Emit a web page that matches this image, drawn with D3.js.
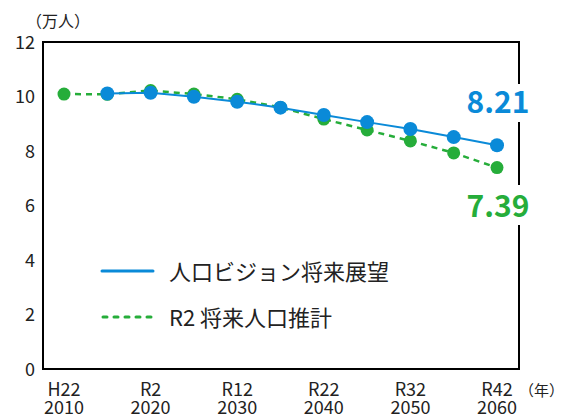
<!DOCTYPE html>
<html>
<head>
<meta charset="utf-8">
<script src="https://cdn.jsdelivr.net/npm/d3@7"></script>
<style>
  body { margin: 0; background: #fff; }
  text { font-family: "Noto Sans CJK JP", "Noto Sans", sans-serif; }
</style>
</head>
<body>
<svg width="566" height="420"></svg>
<script>
// data
const years = [2010, 2015, 2020, 2025, 2030, 2035, 2040, 2045, 2050, 2055, 2060];
const visionValues = [null, 10.11, 10.14, 9.99, 9.81, 9.59, 9.32, 9.06, 8.81, 8.51, 8.21];
const estimateValues = [10.09, 10.08, 10.22, 10.09, 9.9, 9.6, 9.17, 8.77, 8.37, 7.93, 7.39];
const yTicks = [0, 2, 4, 6, 8, 10, 12];
const xTickYears = [2010, 2020, 2030, 2040, 2050, 2060];
const xTickEra = ["H22", "R2", "R12", "R22", "R32", "R42"];
const seriesNames = ["人口ビジョン将来展望", "R2 将来人口推計"];

const blue = "#0a8ad8";
const green = "#26ad3a";
const ink = "#222";

const svg = d3.select("svg");

const x = d3.scaleLinear().domain([2010, 2060]).range([64, 497]);
const y = d3.scaleLinear().domain([0, 12]).range([369, 42]);

// frame
svg.append("rect")
    .attr("x", 43).attr("y", y(12))
    .attr("width", 519 - 43).attr("height", y(0) - y(12))
    .attr("fill", "none")
    .attr("stroke", "#000")
    .attr("stroke-width", 2);

// y axis labels
svg.append("g")
    .selectAll("text")
    .data(yTicks)
    .enter()
    .append("text")
    .attr("x", 35)
    .attr("y", d => y(d) + 6.5)
    .attr("text-anchor", "end")
    .attr("font-size", "18px")
    .attr("fill", ink)
    .text(d => d);

svg.append("text")
    .attr("x", 26).attr("y", 27)
    .attr("font-size", "16px")
    .attr("fill", ink)
    .text("（万人）");

// x axis labels: era name over the western year, one text per tick
const xl = svg.append("g")
    .selectAll("text")
    .data(xTickYears)
    .enter()
    .append("text")
    .attr("text-anchor", "middle")
    .attr("font-size", "18px")
    .attr("fill", ink);
xl.append("tspan")
    .attr("x", d => x(d))
    .attr("y", 396)
    .text((d, i) => xTickEra[i]);
xl.append("tspan")
    .attr("x", d => x(d))
    .attr("y", 414)
    .text(d => d);

svg.append("text")
    .attr("x", 519).attr("y", 396)
    .attr("font-size", "15px")
    .attr("fill", ink)
    .text("（年）");

// lines
const estData = years.map((d, i) => ({ year: d, v: estimateValues[i] })).filter(d => d.v !== null);
const visData = years.map((d, i) => ({ year: d, v: visionValues[i] })).filter(d => d.v !== null);

const line = d3.line().x(d => x(d.year)).y(d => y(d.v));

svg.append("path")
    .datum(estData)
    .attr("d", line)
    .attr("fill", "none")
    .attr("stroke", green)
    .attr("stroke-width", 2.5)
    .attr("stroke-dasharray", "6,5");

svg.append("g")
    .selectAll("circle")
    .data(estData)
    .enter()
    .append("circle")
    .attr("cx", d => x(d.year))
    .attr("cy", d => y(d.v))
    .attr("r", 6.5)
    .attr("fill", green);

svg.append("path")
    .datum(visData)
    .attr("d", line)
    .attr("fill", "none")
    .attr("stroke", blue)
    .attr("stroke-width", 2);

svg.append("g")
    .selectAll("circle")
    .data(visData)
    .enter()
    .append("circle")
    .attr("cx", d => x(d.year))
    .attr("cy", d => y(d.v))
    .attr("r", 7)
    .attr("fill", blue);

// end value labels (white box breaks the frame line)
const last = years.length - 1;
const endLabels = [
    { v: visionValues[last], color: blue, ty: 113, by: 84, bh: 38 },
    { v: estimateValues[last], color: green, ty: 217, by: 185, bh: 40 }
];
endLabels.forEach(l => {
    svg.append("rect")
        .attr("x", 462).attr("y", l.by)
        .attr("width", 72).attr("height", l.bh)
        .attr("fill", "#fff");
    svg.append("text")
        .attr("x", 498).attr("y", l.ty)
        .attr("text-anchor", "middle")
        .attr("font-size", "30px")
        .attr("font-weight", "bold")
        .attr("fill", l.color)
        .text(l.v.toFixed(2));
});

// legend
const legend = svg.append("g");
legend.append("line")
    .attr("x1", 102).attr("x2", 153)
    .attr("y1", 271).attr("y2", 271)
    .attr("stroke", blue)
    .attr("stroke-width", 3)
    .attr("stroke-linecap", "round");
legend.append("line")
    .attr("x1", 103).attr("x2", 153)
    .attr("y1", 317).attr("y2", 317)
    .attr("stroke", green)
    .attr("stroke-width", 3)
    .attr("stroke-dasharray", "4,7")
    .attr("stroke-linecap", "round");
legend.selectAll("text")
    .data(seriesNames)
    .enter()
    .append("text")
    .attr("x", 169)
    .attr("y", (d, i) => 280 + i * 46)
    .attr("font-size", "22px")
    .attr("fill", ink)
    .text(d => d);
</script>
</body>
</html>
